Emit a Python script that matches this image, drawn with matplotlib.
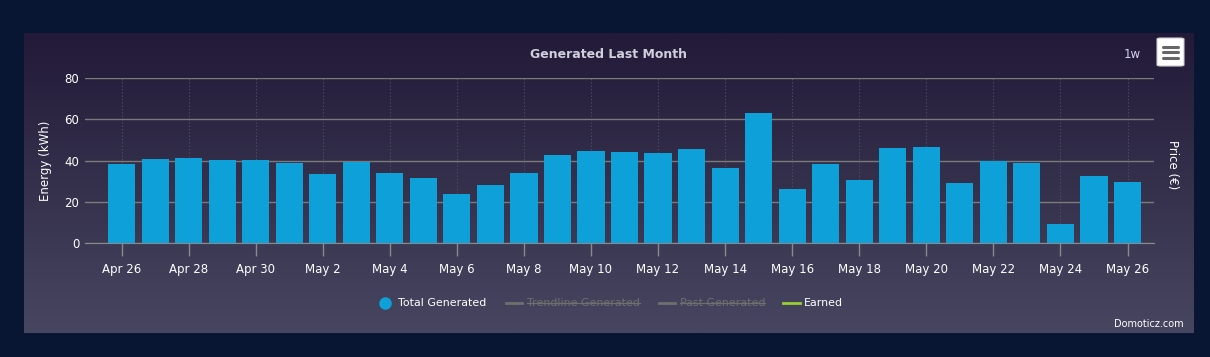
import numpy as np
import matplotlib
matplotlib.use("Agg")
import matplotlib.pyplot as plt
from matplotlib.lines import Line2D
from matplotlib.patches import FancyBboxPatch

# ---- data ----
days = ["Apr 26", "Apr 27", "Apr 28", "Apr 29", "Apr 30", "May 1", "May 2",
        "May 3", "May 4", "May 5", "May 6", "May 7", "May 8", "May 9",
        "May 10", "May 11", "May 12", "May 13", "May 14", "May 15", "May 16",
        "May 17", "May 18", "May 19", "May 20", "May 21", "May 22", "May 23",
        "May 24", "May 25", "May 26"]
generated = [38.4, 40.6, 41.3, 40.3, 40.3, 38.7, 33.5, 39.2, 33.9, 31.6,
             23.8, 28.2, 34.0, 42.7, 44.7, 44.2, 43.7, 45.6, 36.4, 63.0,
             26.3, 38.3, 30.6, 46.1, 46.6, 29.2, 39.8, 38.8, 9.3, 32.5, 29.6]
legend_items = ["Total Generated", "Trendline Generated", "Past Generated", "Earned"]

W, H = 1210, 357
BAR = "#0ea1d9"
TXT = "#ffffff"

fig = plt.figure(figsize=(W / 100, H / 100), dpi=100)
fig.patch.set_facecolor("#081634")


def fx(px):
    return px / W


def fy(py):
    return 1 - py / H


# gradient panel behind the chart
bg = fig.add_axes([fx(24), fy(333), fx(1194 - 24), (333 - 33) / H], zorder=0)
grad = np.linspace(0, 1, 256)[:, None]
top = np.array([0x22, 0x1a, 0x38]) / 255
bot = np.array([0x47, 0x46, 0x60]) / 255
img = top[None, None, :] * (1 - grad[..., None]) + bot[None, None, :] * grad[..., None]
bg.imshow(img, aspect="auto", extent=[0, 1, 0, 1], origin="upper")
bg.set_axis_off()

# ---- main axes ----
ax = fig.add_axes([fx(85), fy(243.3), fx(1154 - 85), (243.3 - 78) / H], zorder=1)
ax.patch.set_alpha(0)
x = np.arange(len(days))
ax.bar(x, generated, width=0.81, color=BAR, zorder=3)
ax.set_xlim(-1.09, 30.79)
ax.set_ylim(0, 80)
ax.set_yticks([0, 20, 40, 60, 80])
ax.set_xticks(x[::2])
ax.set_xticklabels(days[::2])
ax.tick_params(axis="x", colors="#8a8a8a", length=9, width=1, labelcolor=TXT,
               labelsize=8.5, pad=5)
ax.tick_params(axis="y", length=0, labelcolor=TXT, labelsize=8.5, pad=4)
ax.grid(axis="y", color="#7a7a7a", lw=1, zorder=1)
for xi in x[::2]:
    ax.axvline(xi, color="#55506a", lw=0.8, ls=(0, (1, 2)), zorder=0.5)
for s in ["top", "right", "left"]:
    ax.spines[s].set_visible(False)
ax.spines["bottom"].set_color("#8a8a8a")
ax.set_ylabel("Energy (kWh)", color=TXT, fontsize=8.5, labelpad=9)

# right axis label
fig.text(fx(1172), fy(165), "Price (€)", rotation=-90, color=TXT, fontsize=8.5,
         ha="center", va="center")

# title and header controls
fig.text(fx(608), fy(54), "Generated Last Month", color="#d0d0dc", fontsize=9,
         fontweight="bold", ha="center", va="center")
fig.text(fx(1132), fy(55), "1w", color="#d0d4e8", fontsize=8.5, ha="center", va="center")
btn = FancyBboxPatch((fx(1157), fy(66)), fx(27), (66 - 38) / H,
                     boxstyle="round,pad=0,rounding_size=0.003",
                     transform=fig.transFigure, fc="white", ec="#cccccc", lw=0.8,
                     zorder=5)
fig.patches.append(btn)
for yy in (46.5, 52, 57.5):
    fig.lines.append(Line2D([fx(1163), fx(1178)], [fy(yy), fy(yy)],
                            transform=fig.transFigure, color="#666666", lw=2.2,
                            solid_capstyle="round", zorder=6))

# ---- legend drawn by hand ----
ly = fy(303)
LFS = 7.9
fig.lines.append(Line2D([fx(385)], [ly], marker="o", ms=8, color=BAR,
                        transform=fig.transFigure, zorder=5))
fig.text(fx(398), ly, legend_items[0], color=TXT, fontsize=LFS, va="center")
grey = "#6f6f6f"
for lx0, tx, lab in [(506, 527, legend_items[1]), (659, 680, legend_items[2])]:
    fig.lines.append(Line2D([fx(lx0), fx(lx0 + 16)], [ly, ly], color=grey, lw=2,
                            transform=fig.transFigure, zorder=5))
    t = fig.text(fx(tx), ly, lab, color=grey, fontsize=LFS, va="center")
    fig.canvas.draw()
    bb = t.get_window_extent().transformed(fig.transFigure.inverted())
    ym = (bb.y0 + bb.y1) / 2
    fig.lines.append(Line2D([bb.x0, bb.x1], [ym, ym], color=grey, lw=0.9,
                            transform=fig.transFigure, zorder=5))
fig.lines.append(Line2D([fx(783), fx(800)], [ly, ly], color="#9acd32", lw=2,
                        transform=fig.transFigure, zorder=5))
fig.text(fx(804), ly, legend_items[3], color=TXT, fontsize=LFS, va="center")

fig.text(fx(1184), fy(324), "Domoticz.com", color=TXT, fontsize=7, ha="right",
         va="center")

fig.savefig("out.png", dpi=100, facecolor=fig.get_facecolor())
